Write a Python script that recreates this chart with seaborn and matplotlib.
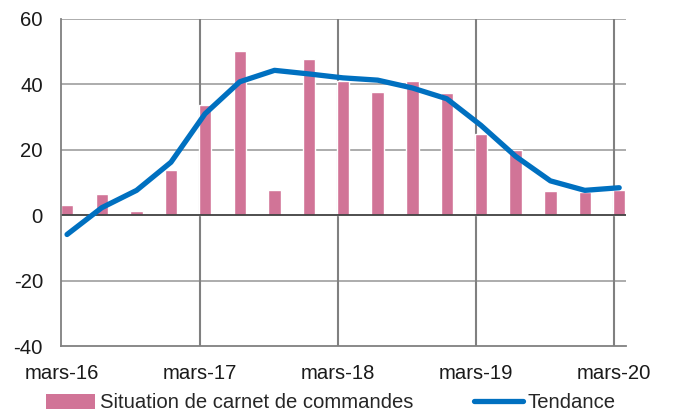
import matplotlib
matplotlib.use("Agg")
import matplotlib.pyplot as plt
import seaborn as sns
import pandas as pd
from matplotlib.patches import Patch
from matplotlib.lines import Line2D

# Quarterly survey data (mid-month observations), March 2016 to March 2020
dates = pd.to_datetime([
    "2016-03-15", "2016-06-15", "2016-09-15", "2016-12-15",
    "2017-03-15", "2017-06-15", "2017-09-15", "2017-12-15",
    "2018-03-15", "2018-06-15", "2018-09-15", "2018-12-15",
    "2019-03-15", "2019-06-15", "2019-09-15", "2019-12-15",
    "2020-03-15",
])
carnet = [3.2, 6.6, 1.2, 13.8, 33.6, 50.3, 7.7, 47.8, 40.9, 37.8,
          40.9, 37.3, 24.9, 20.0, 7.3, 7.0, 7.8]
tendance = [-5.9, 2.3, 7.6, 16.2, 31.0, 40.8, 44.3, 43.2, 42.0, 41.3,
            38.9, 35.6, 27.5, 18.0, 10.5, 7.6, 8.4]
tick_dates = pd.to_datetime(["2016-03-01", "2017-03-01", "2018-03-01",
                             "2019-03-01", "2020-03-01"])
tick_labels = ["mars-16", "mars-17", "mars-18", "mars-19", "mars-20"]

label_bar = "Situation de carnet de commandes"
label_line = "Tendance"

df = pd.DataFrame({"date": dates, "carnet": carnet, "tendance": tendance})

sns.set_theme(style="white")
plt.rcParams["font.family"] = ["Liberation Sans", "DejaVu Sans"]
plt.rcParams["axes.unicode_minus"] = False

BAR_COLOR = "#D17497"
LINE_COLOR = "#0070C0"
FS = 14.6

fig = plt.figure(figsize=(6.75, 4.12), dpi=100)
ax = fig.add_axes([61 / 675, 1 - 346 / 412, (626 - 61) / 675, (346 - 19) / 412])

ax.bar(df["date"], df["carnet"], width=33, color=BAR_COLOR, zorder=2)
sns.lineplot(data=df, x="date", y="tendance", ax=ax, color=LINE_COLOR,
             linewidth=3.8, zorder=3, legend=False)

ax.set_ylim(-40, 60)
ax.set_yticks([-40, -20, 0, 20, 40, 60])
ax.set_xlim(pd.Timestamp("2016-02-28"), pd.Timestamp("2020-04-02"))
ax.set_xticks(tick_dates)
ax.set_xticklabels(tick_labels)
ax.set_xlabel("")
ax.set_ylabel("")

# grid: light horizontal lines, darker vertical lines at each March
for y in [-20, 20, 40, 60]:
    ax.axhline(y, color="#A6A6A6", linewidth=1.3, zorder=1)
for d in tick_dates[1:]:
    ax.axvline(d, color="#808080", linewidth=1.5, zorder=1)
ax.axhline(0, color="#404040", linewidth=1.3, zorder=2.5)

for side in ["top", "right"]:
    ax.spines[side].set_visible(False)
for side in ["left", "bottom"]:
    ax.spines[side].set_color("#808080")
    ax.spines[side].set_linewidth(1.3)

ax.tick_params(axis="both", length=0, labelsize=FS, colors="#1a1a1a")
ax.tick_params(axis="y", pad=13)
ax.tick_params(axis="x", pad=13)

handles = [Patch(facecolor=BAR_COLOR, edgecolor="none", label=label_bar),
           Line2D([], [], color=LINE_COLOR, linewidth=3.8, label=label_line)]
fig.legend(handles=handles, loc="center", bbox_to_anchor=(0.49, 1 - 403 / 412),
           ncol=2, frameon=False, fontsize=FS, handlelength=2.4,
           handletextpad=0.25, columnspacing=3.0, borderaxespad=0)

fig.savefig("out.png", dpi=100)
